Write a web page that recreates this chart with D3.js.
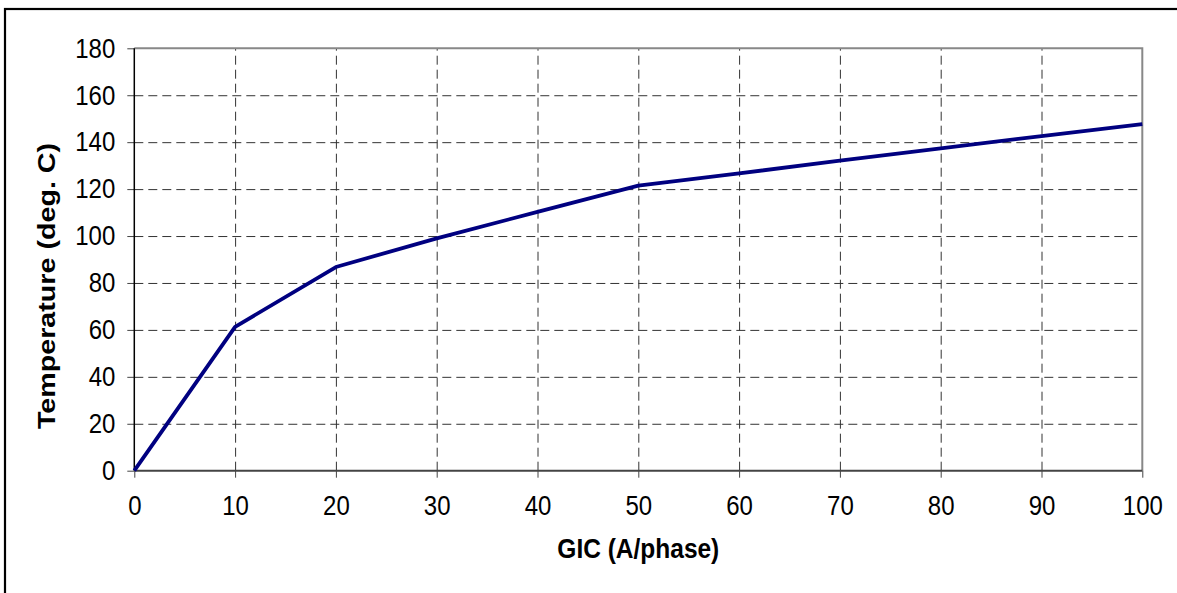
<!DOCTYPE html>
<html>
<head>
<meta charset="utf-8">
<script src="https://cdn.jsdelivr.net/npm/d3@7"></script>
<style>
  body { margin: 0; background: #fff; }
  #chart { width: 1177px; height: 593px; }
  text { font-family: "Liberation Sans", Arial, sans-serif; fill: #000; }
  .grid line { stroke: #333; stroke-width: 1; stroke-dasharray: 9,5; }
  .grid path { display: none; }
  .axis path { display: none; }
  .axis line { stroke: #444; stroke-width: 1; }
  .axis text { font-size: 24px; }
  .temp_line { fill: none; stroke: #000080; stroke-width: 3.8; stroke-linejoin: round; }
</style>
</head>
<body>
<div id="chart"></div>
<script>
// GIC (A/phase) values on x, temperature (deg. C) on y
var gic = [0, 10, 20, 30, 40, 50, 60, 70, 80, 90, 100];
var temperature = [0, 61.3, 86.8, 99.0, 110.3, 121.5, 126.7, 132.1, 137.4, 142.6, 147.7];
var xTicks = [0, 10, 20, 30, 40, 50, 60, 70, 80, 90, 100];
var yTicks = [0, 20, 40, 60, 80, 100, 120, 140, 160, 180];

var outerWidth = 1177;
var outerHeight = 593;
var margin = {top: 48.3, right: 34.7, bottom: 122.3, left: 134.3};

// the source picture is stretched a bit vertically, text too
var stretch = 1.14;

var root = d3.select("#chart")
    .append("svg")
    .attr("width", outerWidth)
    .attr("height", outerHeight);

// outer chart border (runs off the right and bottom edges)
root.append("rect")
    .attr("x", 5)
    .attr("y", 9)
    .attr("width", outerWidth + 20)
    .attr("height", outerHeight + 20)
    .attr("fill", "none")
    .attr("stroke", "#000")
    .attr("stroke-width", 2.2);

var svg = root.append("g")
    .attr("transform", "translate(" + margin.left + "," + margin.top + ")");

var width = outerWidth - margin.left - margin.right;
var height = outerHeight - margin.top - margin.bottom;

var xScale = d3.scaleLinear()
    .domain([0, 100])
    .range([0, width]);

var yScale = d3.scaleLinear()
    .domain([0, 180])
    .range([height, 0]);

// X gridlines
svg.append("g")
    .attr("class", "grid")
    .attr("transform", "translate(0," + height + ")")
    .call(d3.axisBottom(xScale)
          .tickValues(xTicks.slice(1, -1))
          .tickSize(-height)
          .tickFormat(""));

// Y gridlines
svg.append("g")
    .attr("class", "grid")
    .call(d3.axisLeft(yScale)
          .tickValues(yTicks.slice(1, -1))
          .tickSize(-width)
          .tickFormat(""));

// plot area frame, top and right
svg.append("path")
    .attr("d", "M0," + yScale(180) + "H" + xScale(100) + "V" + yScale(0))
    .attr("fill", "none")
    .attr("stroke", "#888")
    .attr("stroke-width", 2);

// X axis
svg.append("g")
    .attr("class", "x axis")
    .attr("transform", "translate(0," + height + ")")
    .call(d3.axisBottom(xScale)
          .tickValues(xTicks)
          .tickSize(7)
          .tickPadding(15))
    .selectAll("text")
    .attr("transform", "scale(1," + stretch + ")");

// Y axis
svg.append("g")
    .attr("class", "y axis")
    .call(d3.axisLeft(yScale)
          .tickValues(yTicks)
          .tickSize(7)
          .tickPadding(12))
    .selectAll("text")
    .attr("transform", "scale(1," + stretch + ")");

// axis lines
svg.append("line")
    .attr("x1", 0).attr("x2", 0)
    .attr("y1", 0).attr("y2", height)
    .attr("stroke", "#000")
    .attr("stroke-width", 1.5);

svg.append("line")
    .attr("x1", 0).attr("x2", width)
    .attr("y1", height).attr("y2", height)
    .attr("stroke", "#444")
    .attr("stroke-width", 2);

// Temperature line
var tempLine = d3.line()
    .x((d, i) => xScale(gic[i]))
    .y(d => yScale(d));

svg.append("path")
    .datum(temperature)
    .attr("class", "temp_line")
    .attr("d", tempLine);

// Axis titles
root.append("text")
    .attr("transform", "translate(" + (margin.left + width / 2) + ",558) scale(1," + stretch + ")")
    .attr("text-anchor", "middle")
    .style("font-size", "24.5px")
    .style("font-weight", "bold")
    .text("GIC (A/phase)");

root.append("text")
    .attr("transform", "translate(55,286) rotate(-90) scale(1.17,1)")
    .attr("text-anchor", "middle")
    .style("font-size", "24.5px")
    .style("font-weight", "bold")
    .text("Temperature (deg. C)");
</script>
</body>
</html>
